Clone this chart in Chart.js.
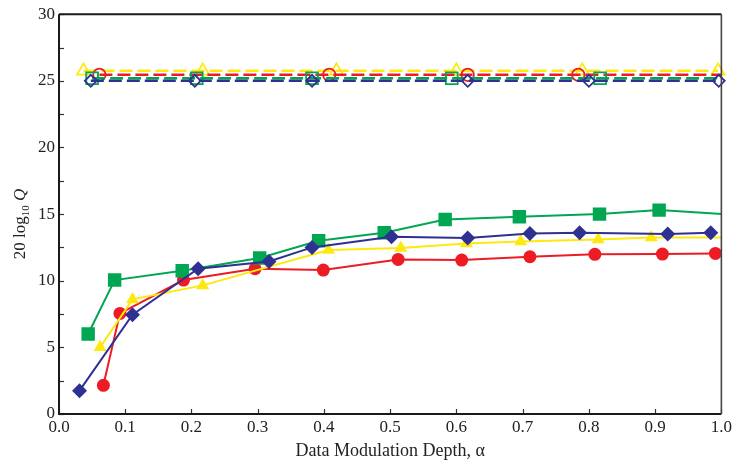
<!DOCTYPE html>
<html>
<head>
<meta charset="utf-8">
<script src="https://cdn.jsdelivr.net/npm/chart.js@4"></script>
<style>
  html, body { margin: 0; padding: 0; background: #fff; }
  #wrap { width: 735px; height: 461px; }
</style>
</head>
<body>
<div id="wrap"><canvas id="grafico" width="735" height="461"></canvas></div>
<script>
// series with filled markers (solid lines)
const diamondX = [0.031, 0.111, 0.210, 0.317, 0.382, 0.502, 0.617, 0.711, 0.786, 0.919, 0.984];
const diamondY = [1.75, 7.45, 10.9, 11.45, 12.5, 13.3, 13.2, 13.55, 13.6, 13.5, 13.6];

const squareX = [0.044, 0.084, 0.186, 0.303, 0.392, 0.491, 0.583, 0.695, 0.816, 0.906, 1.05];
const squareY = [6.0, 10.05, 10.75, 11.7, 13.0, 13.6, 14.6, 14.8, 15.0, 15.3, 14.87];

const triX = [0.062, 0.111, 0.217, 0.407, 0.516, 0.615, 0.697, 0.814, 0.894, 1.05];
const triY = [5.0, 8.6, 9.65, 12.3, 12.45, 12.8, 12.95, 13.1, 13.25, 13.25];

const circleX = [0.067, 0.092, 0.188, 0.296, 0.399, 0.512, 0.608, 0.711, 0.809, 0.911, 0.991];
const circleY = [2.15, 7.55, 10.05, 10.9, 10.8, 11.6, 11.55, 11.8, 11.98, 12.0, 12.05];

// series with hollow markers (dashed lines)
const openTriX = [0.037, 0.217, 0.419, 0.600, 0.790, 0.995];
const openTriY = [25.75, 25.75, 25.75, 25.75, 25.75, 25.75];

const openCircleX = [0.061, 0.408, 0.617, 0.784, 1.05];
const openCircleY = [25.45, 25.45, 25.45, 25.45, 25.45];

const openSquareX = [0.050, 0.208, 0.382, 0.593, 0.817, 1.05];
const openSquareY = [25.2, 25.2, 25.2, 25.2, 25.2, 25.2];

const openDiamondX = [0.048, 0.205, 0.382, 0.617, 0.800, 0.996];
const openDiamondY = [25.0, 25.0, 25.0, 25.0, 25.0, 25.0];

const xTicks = [0, 0.1, 0.2, 0.3, 0.4, 0.5, 0.6, 0.7, 0.8, 0.9, 1.0];
const yTicks = [0, 5, 10, 15, 20, 25, 30];

const verde = "#00a651";
const azul = "#2e3192";
const rojo = "#ed1c24";
const amarillo = "#fde910";
const fuente = "'Liberation Serif', 'Times New Roman', serif";

function puntos(xs, ys){
  return xs.map((x,i)=>({ x: x, y: ys[i] }));
}

const recorteDer = { left: 12, top: 12, bottom: 12, right: 0 };

function serieLlena(xs, ys, color, estilo, radio, clip){
  return {
    data: puntos(xs, ys),
    showLine: true,
    borderColor: color,
    backgroundColor: color,
    borderWidth: 2,
    pointStyle: estilo,
    pointRadius: radio,
    pointBorderWidth: 0,
    pointBackgroundColor: color,
    clip: clip
  };
}

function serieHueca(xs, ys, color, estilo, radio, clip){
  return {
    data: puntos(xs, ys),
    showLine: true,
    borderColor: color,
    borderWidth: 2.5,
    borderDash: [13, 5],
    pointStyle: estilo,
    pointRadius: radio,
    pointBorderWidth: 1.8,
    pointBorderColor: color,
    pointBackgroundColor: "rgba(0,0,0,0)",
    clip: clip
  };
}

// marco completo, ticks hacia dentro y titulos de los ejes
const marcoPlugin = {
  id: "marco",
  afterDraw(chart){
    const { ctx, chartArea: a, scales } = chart;
    ctx.save();
    ctx.strokeStyle = "#333";
    ctx.lineWidth = 1.2;
    for (let v = 0; v <= 30; v += 2.5){
      const y = Math.round(scales.y.getPixelForValue(v)) + 0.5;
      ctx.beginPath();
      ctx.moveTo(a.left, y); ctx.lineTo(a.left + 5, y);
      ctx.stroke();
    }
    xTicks.forEach(v=>{
      const x = Math.round(scales.x.getPixelForValue(v)) + 0.5;
      ctx.beginPath();
      ctx.moveTo(x, a.bottom); ctx.lineTo(x, a.bottom - 5);
      ctx.stroke();
    });

    ctx.strokeStyle = "#1a1a1a";
    ctx.lineWidth = 2;
    ctx.beginPath();
    ctx.moveTo(a.left, a.top); ctx.lineTo(a.left, a.bottom); ctx.lineTo(a.right, a.bottom);
    ctx.moveTo(a.left, a.top); ctx.lineTo(a.right, a.top);
    ctx.stroke();
    ctx.strokeStyle = "#444";
    ctx.lineWidth = 1.6;
    ctx.beginPath();
    ctx.moveTo(a.right, a.top); ctx.lineTo(a.right, a.bottom);
    ctx.stroke();

    ctx.fillStyle = "#222";
    ctx.textBaseline = "alphabetic";
    ctx.textAlign = "center";
    ctx.font = "18px " + fuente;
    ctx.fillText("Data Modulation Depth, \u03b1", (a.left + a.right) / 2, 456);

    // 20 log10 Q, girado
    ctx.translate(25, 224);
    ctx.rotate(-Math.PI / 2);
    const partes = [
      { t: "20 log", f: "17px " + fuente, dy: 0 },
      { t: "10", f: "11px " + fuente, dy: 4 },
      { t: " Q", f: "italic 17px " + fuente, dy: 0 }
    ];
    let total = 0;
    partes.forEach(p=>{ ctx.font = p.f; total += ctx.measureText(p.t).width; });
    let x = -total / 2;
    ctx.textAlign = "left";
    partes.forEach(p=>{
      ctx.font = p.f;
      ctx.fillText(p.t, x, p.dy);
      x += ctx.measureText(p.t).width;
    });
    ctx.restore();
  }
};

new Chart(document.getElementById("grafico"), {
  type: "scatter",
  data: {
    datasets: [
      serieLlena(diamondX, diamondY, azul, "rectRot", 7.5, 12),
      serieLlena(squareX, squareY, verde, "rect", 9.5, recorteDer),
      serieLlena(triX, triY, amarillo, "triangle", 7.5, recorteDer),
      serieLlena(circleX, circleY, rojo, "circle", 6.5, 12),
      serieHueca(openDiamondX, openDiamondY, azul, "rectRot", 6, 12),
      serieHueca(openSquareX, openSquareY, verde, "rect", 8.3, recorteDer),
      serieHueca(openCircleX, openCircleY, rojo, "circle", 6.2, recorteDer),
      serieHueca(openTriX, openTriY, amarillo, "triangle", 7.5, 12)
    ]
  },
  options: {
    responsive: false,
    animation: false,
    events: [],
    layout: { padding: { left: 0, right: 9, top: 14, bottom: 0 } },
    plugins: { legend: { display: false }, tooltip: { enabled: false } },
    scales: {
      x: {
        type: "linear",
        min: 0, max: 1,
        afterFit(scale){ scale.height = 47; },
        afterBuildTicks(scale){ scale.ticks = xTicks.map(v=>({ value: v })); },
        grid: { display: false, drawTicks: false },
        border: { display: false },
        ticks: {
          color: "#222",
          font: { family: fuente, size: 17 },
          padding: 3,
          maxRotation: 0,
          callback: v => v.toFixed(1)
        }
      },
      y: {
        type: "linear",
        min: 0, max: 30,
        afterFit(scale){ scale.width = 59; },
        afterBuildTicks(scale){ scale.ticks = yTicks.map(v=>({ value: v })); },
        grid: { display: false, drawTicks: false },
        border: { display: false },
        ticks: {
          color: "#222",
          font: { family: fuente, size: 17 },
          padding: 4
        }
      }
    }
  },
  plugins: [marcoPlugin]
});
</script>
</body>
</html>
